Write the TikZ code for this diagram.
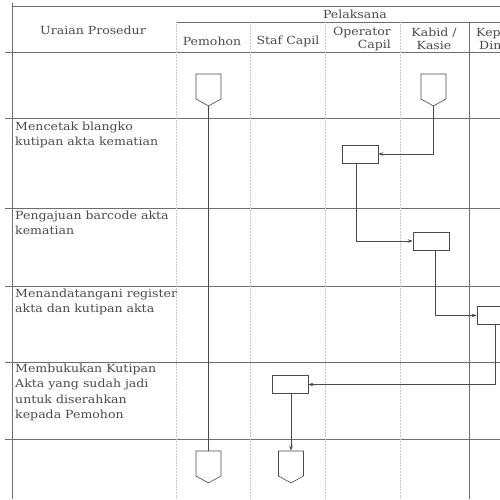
\documentclass[tikz,border=0pt]{standalone}
\usepackage{fontspec}
\setmainfont{DejaVu Serif}[FakeStretch=1.12]
\usetikzlibrary{shapes.symbols,arrows.meta}
\definecolor{ink}{HTML}{4A4A4A}
\definecolor{faint}{HTML}{C8C8C8}
\begin{document}
\begin{tikzpicture}[x=1pt,y=-1pt,
  font=\fontsize{11.2}{14}\selectfont, text=ink,
  grid/.style={draw=ink!80, line width=0.6pt},
  lane/.style={draw=faint, line width=0.5pt, densely dotted},
  procbox/.style={draw=ink, line width=0.6pt, rectangle, minimum width=36pt, minimum height=18pt, inner sep=0pt},
  offpage/.style={draw=ink, line width=0.6pt, signal, signal to=south, signal pointer angle=122, minimum width=25pt, minimum height=25pt, inner sep=0pt},
  flow/.style={draw=ink, line width=0.6pt, -{Stealth[length=5pt,width=3.5pt]}},
  plain/.style={draw=ink, line width=0.6pt},
  hdr/.style={font=\fontsize{11.2}{13}\selectfont},
  desc/.style={anchor=north west, align=left, inner sep=0pt, font=\fontsize{11.2}{15.2}\selectfont}]
\useasboundingbox (0,0) rectangle (500,499);
\clip (0,0) rectangle (500,499);
% grid lines
\draw[grid] (12,6) -- (500,6);
\draw[grid] (176,22) -- (500,22);
\draw[grid] (5,52) -- (500,52);
\foreach \y in {118,208,286,362,439} \draw[grid] (5,\y) -- (500,\y);
\draw[grid] (12,3) -- (12,499);
\draw[grid] (469,22) -- (469,499);
\foreach \x in {176,250,325,400} \draw[lane] (\x,22) -- (\x,499);
% header text
\node (h0) at (93,30) {Uraian Prosedur};
\node (h1) at (355,14) {Pelaksana};
\node (h2) at (212,41) {Pemohon};
\node (h3) at (288,41) {Staf Capil};
\node[hdr, align=right] (h4) at (362,39) {Operator\\Capil};
\node[hdr, align=center] (h5) at (434,39) {Kabid /\\Kasie};
\node[hdr, align=left, anchor=west, inner sep=0pt] (h6) at (476,39) {Kep\\\hspace{3pt}Din};
% row descriptions
\node[desc] (d1) at (15,122) {Mencetak blangko\\kutipan akta kematian};
\node[desc] (d2) at (15,211) {Pengajuan barcode akta\\kematian};
\node[desc] (d3) at (15,289) {Menandatangani register\\akta dan kutipan akta};
\node[desc] (d4) at (15,364) {Membukukan Kutipan\\Akta yang sudah jadi\\untuk diserahkan\\kepada Pemohon};
% shapes
\node[offpage] (s1) at (208.5,86.5) {};
\node[offpage] (s2) at (433.5,86.5) {};
\node[procbox] (b1) at (360,154) {};
\node[procbox] (b2) at (431,241) {};
\node[procbox] (b3) at (495,315.5) {};
\node[procbox] (b4) at (290,384.5) {};
\node[offpage] (s3) at (208.5,463.5) {};
\node[offpage] (s4) at (291,463.5) {};
% connectors
\draw[plain] (s1.south) -- (s3.north);
\draw[flow] (s2.south) |- (b1.east);
\draw[flow] (b1.south -| 356,0) |- (b2.west);
\draw[flow] (b2.south -| 435,0) |- (b3.west);
\draw[flow] (b3.south -| 495,0) |- (b4.east);
\draw[flow] (b4.south -| s4.north) -- (s4.north);
\end{tikzpicture}
\end{document}
